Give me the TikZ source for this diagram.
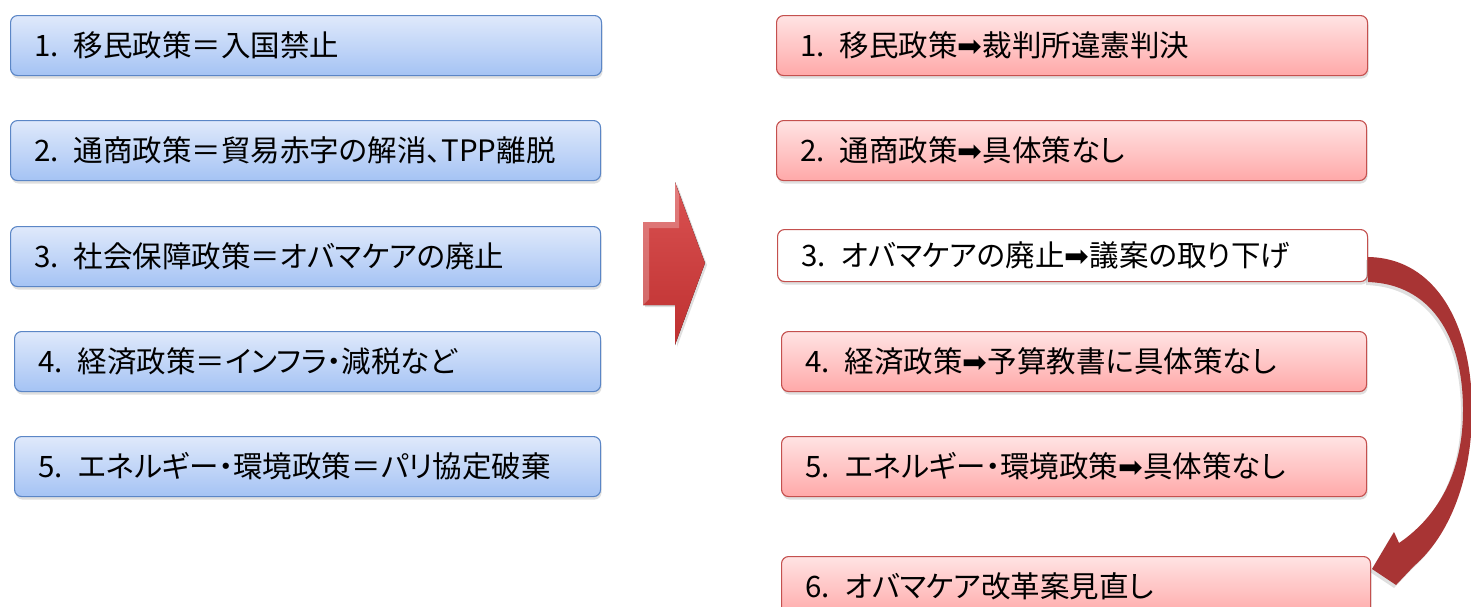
\documentclass[tikz,border=0pt]{standalone}
\usepackage{fontspec}
\setmainfont[RawFeature=+palt]{Noto Sans CJK JP}
\newfontfamily\djv{DejaVu Sans}
\usetikzlibrary{shadows}
\definecolor{btop}{HTML}{DFE9FB}
\definecolor{bbot}{HTML}{A5C3F4}
\definecolor{bline}{HTML}{5B86C6}
\definecolor{ptop}{HTML}{FFE3E3}
\definecolor{pbot}{HTML}{FFA9A9}
\definecolor{pline}{HTML}{C4504E}
\definecolor{arrtop}{HTML}{DA5252}
\definecolor{arrbot}{HTML}{BE3030}
\definecolor{curvecol}{HTML}{A83434}
\newcommand{\ar}{{\djv ➡}}
\tikzset{
  box/.style={rounded corners=7pt, line width=1.1pt, minimum height=60pt,
    inner xsep=24pt, inner ysep=0pt, anchor=north west, align=left,
    font=\fontsize{29.5}{32}\selectfont,
    drop shadow={opacity=0.25, shadow xshift=1pt, shadow yshift=-3pt}},
  bluebox/.style={box, draw=bline, top color=btop, bottom color=bbot},
  pinkbox/.style={box, draw=pline, top color=ptop, bottom color=pbot},
  whitebox/.style={box, draw=pline, fill=white, minimum height=52pt},
}
\begin{document}
\begin{tikzpicture}[x=1pt,y=-1pt]
\useasboundingbox (0,0) rectangle (1471,606);
% left column
\node[bluebox, text width=543pt] (l1) at (10,15) {1. 移民政策＝入国禁止};
\node[bluebox, text width=542pt] (l2) at (10,120) {2. 通商政策＝貿易赤字の解消、TPP離脱};
\node[bluebox, text width=542pt] (l3) at (10,226) {3. 社会保障政策＝オバマケアの廃止};
\node[bluebox, text width=538pt] (l4) at (14,331) {4. 経済政策＝インフラ・減税など};
\node[bluebox, text width=538pt] (l5) at (14,436) {5. エネルギー・環境政策＝パリ協定破棄};
% right column
\node[pinkbox, text width=543pt] (r1) at (776,15) {1. 移民政策\ar 裁判所違憲判決};
\node[pinkbox, text width=542pt] (r2) at (776,120) {2. 通商政策\ar 具体策なし};
\node[whitebox, text width=542pt] (r3) at (777,229) {3. オバマケアの廃止\ar 議案の取り下げ};
\node[pinkbox, text width=537pt] (r4) at (781,331) {4. 経済政策\ar 予算教書に具体策なし};
\node[pinkbox, text width=537pt] (r5) at (781,436) {5. エネルギー・環境政策\ar 具体策なし};
\node[pinkbox, text width=541pt] (r6) at (781,556) {6. オバマケア改革案見直し};
% big arrow
\fill[top color=arrtop, bottom color=arrbot,
  drop shadow={opacity=0.25, shadow xshift=2pt, shadow yshift=-2pt}]
  (643,222) -- (675,222) -- (675,182) -- (705,263) -- (675,345) -- (675,305) -- (643,305) -- cycle;
\fill[white, opacity=0.25] (643,222) -- (675,222) -- (675,182) -- (679,195) -- (679,228) -- (649,228) -- (649,299) -- (643,305) -- cycle;
% curved arrow from r3 to r6
\coordinate (cs1) at (1368,257);
\coordinate (cs2) at (1368,282);
\coordinate (ctip) at (1372,569);
\fill[curvecol, drop shadow={opacity=0.25, shadow xshift=-2pt, shadow yshift=-3pt}]
  (cs1) .. controls (1436,258) and (1472,325) .. (1472,410)
  .. controls (1472,478) and (1450,535) .. (1414,566)
  -- (1396,585) -- (ctip) -- (1394,532) -- (1399,543)
  .. controls (1440,515) and (1463,470) .. (1463,410)
  .. controls (1463,335) and (1430,284) .. (cs2) -- cycle;
\end{tikzpicture}
\end{document}
